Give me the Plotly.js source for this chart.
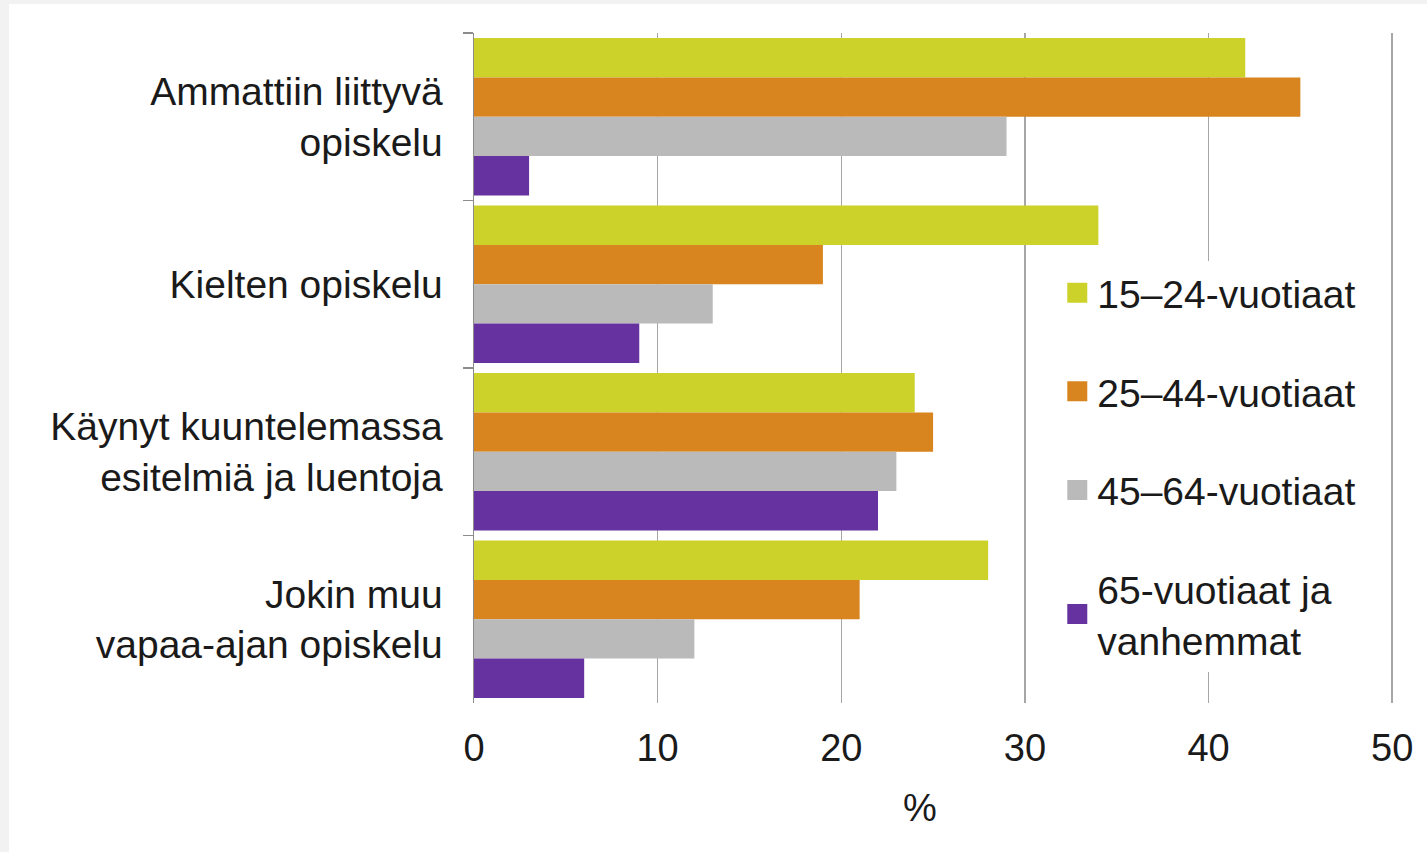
<!DOCTYPE html>
<html>
<head>
<meta charset="utf-8">
<script src="https://cdn.plot.ly/plotly-3.0.1.min.js"></script>
<style>
  html, body { margin: 0; padding: 0; background: #f2f2f2; width: 1427px; height: 852px; overflow: hidden; }
  #chart { position: absolute; left: 9px; top: 4px; width: 1418px; height: 848px; background: #ffffff; }
</style>
</head>
<body>
<div id="chart"></div>
<script>
// Categories (top to bottom)
const categories = [
  "Ammattiin liittyvä<br>opiskelu",
  "Kielten opiskelu",
  "Käynyt kuuntelemassa<br>esitelmiä ja luentoja",
  "Jokin muu<br>vapaa-ajan opiskelu"
];
// Series names
const seriesNames = [
  "15–24-vuotiaat",
  "25–44-vuotiaat",
  "45–64-vuotiaat",
  "65-vuotiaat ja<br>vanhemmat"
];
// Values (%)
const v15_24 = [42, 34, 24, 28];
const v25_44 = [45, 19, 25, 21];
const v45_64 = [29, 13, 23, 12];
const v65plus = [3, 9, 22, 6];
const seriesValues = [v15_24, v25_44, v45_64, v65plus];
const seriesColors = ["#cdd22b", "#d8851f", "#bababa", "#6532a0"];
const xTicks = [0, 10, 20, 30, 40, 50];
const xAxisTitle = "%";

const FONT = "'Liberation Sans', Arial, sans-serif";

const traces = seriesNames.map((name, i) => ({
  type: "bar",
  orientation: "h",
  name: name,
  y: categories,
  x: seriesValues[i],
  marker: { color: seriesColors[i], line: { width: 0 } },
  legendgroup: "g" + i,
  hoverinfo: "x+name"
}));

const layout = {
  width: 1418,
  height: 848,
  paper_bgcolor: "#ffffff",
  plot_bgcolor: "#ffffff",
  margin: { l: 465, r: 33, t: 29, b: 149, autoexpand: false },
  barmode: "group",
  bargap: 0.06,
  bargroupgap: 0,
  font: { family: FONT, size: 40, color: "#1a1a1a" },
  xaxis: {
    range: [0, 50.1],
    tickvals: xTicks,
    ticktext: xTicks.map(String),
    showgrid: true,
    gridcolor: "#a6a6a6",
    gridwidth: 1.5,
    zeroline: false,
    showline: false,
    ticks: "",
    ticklabelstandoff: 19,
    tickfont: { family: FONT, size: 38, color: "#1a1a1a" },
    fixedrange: true
  },
  yaxis: {
    type: "category",
    autorange: "reversed",
    tickson: "boundaries",
    ticks: "outside",
    ticklen: 10,
    tickwidth: 1.5,
    tickcolor: "#8c8c8c",
    showline: true,
    linecolor: "#8c8c8c",
    linewidth: 1.5,
    showgrid: false,
    zeroline: false,
    ticklabelstandoff: 22,
    tickfont: { family: FONT, size: 39, color: "#1a1a1a" },
    fixedrange: true
  },
  annotations: [{
    text: xAxisTitle,
    xref: "paper", yref: "paper",
    x: 0.485, y: -0.157,
    xanchor: "center", yanchor: "middle",
    showarrow: false,
    font: { family: FONT, size: 38, color: "#1a1a1a" }
  }],
  showlegend: true,
  legend: {
    x: 0.634,
    y: 0.66,
    xanchor: "left",
    yanchor: "top",
    bgcolor: "#ffffff",
    borderwidth: 0,
    tracegroupgap: 45,
    traceorder: "grouped",
    font: { family: FONT, size: 39, color: "#1a1a1a" },
    itemclick: false,
    itemdoubleclick: false
  }
};

Plotly.newPlot("chart", traces, layout, { displayModeBar: false, staticPlot: true }).then(gd => {
  // enlarge the legend colour squares to match the reference (20x20)
  gd.querySelectorAll(".legendpoints path").forEach(p => {
    p.setAttribute("d", "M10,10H-10V-10H10Z");
  });
});
</script>
</body>
</html>
